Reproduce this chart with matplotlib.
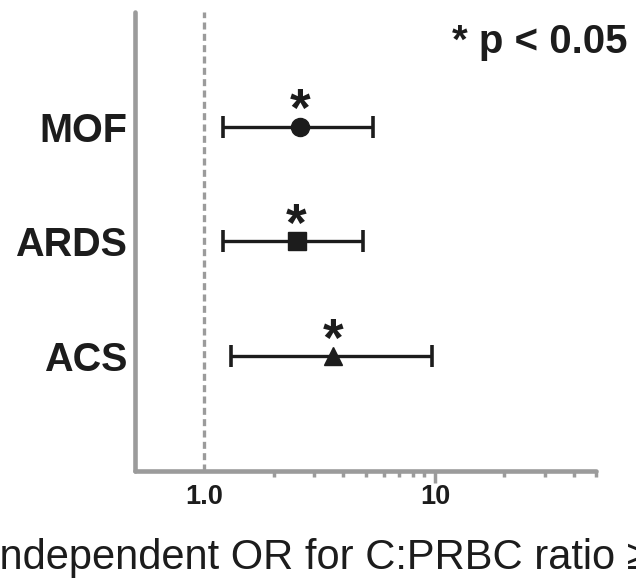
import numpy as np
import matplotlib
matplotlib.use("Agg")
import matplotlib.pyplot as plt

plt.rcParams['font.family'] = ['Liberation Sans', 'DejaVu Sans']

outcomes = ["MOF", "ARDS", "ACS"]
odds = [2.61, 2.51, 3.60]
ci_low = [1.20, 1.20, 1.31]
ci_high = [5.38, 4.86, 9.7]
markers = ["o", "s", "^"]
ypos = [3, 2, 1]

grey = "#9b9b9b"
ink = "#1c1c1c"

fig = plt.figure(figsize=(6.36, 5.85), dpi=100)
ax = fig.add_axes([0.2123, 0.1949, 0.7248, 0.7846])

for y, o, lo, hi, m in zip(ypos, odds, ci_low, ci_high, markers):
    ax.errorbar(o, y, xerr=[[o - lo], [hi - o]], fmt=m, color=ink,
                ms=13, elinewidth=2.4, capsize=8, capthick=2.6, zorder=3)
    # significance star
    ax.text(o, y + 0.005, "*", ha="center", va="baseline", fontsize=38,
            fontweight="bold", color=ink)

ax.axvline(1.0, color=grey, lw=2.4, ls=(0, (2.1, 1.3)), zorder=1)

ax.set_xscale("log")
ax.set_xlim(0.5, 50)
ax.set_ylim(0, 4)

ax.set_xticks([1, 10])
ax.set_xticklabels(["1.0", "10"], fontsize=19.5, fontweight="bold", color=ink)
ax.set_xticks([2, 3, 4, 5, 6, 7, 8, 9, 20, 30, 40, 50], minor=True)
ax.xaxis.set_minor_formatter(plt.NullFormatter())
ax.tick_params(axis="x", which="major", length=8.6, width=2.5, color=grey, pad=0.8)
ax.tick_params(axis="x", which="minor", length=4.3, width=2.5, color=grey)
ax.xaxis.get_major_ticks()[0].tick1line.set_visible(False)

ax.set_yticks(ypos)
ax.set_yticklabels(outcomes, fontsize=28.5, fontweight="bold", color=ink)
ax.tick_params(axis="y", length=0, pad=5.8)

for s in ["top", "right"]:
    ax.spines[s].set_visible(False)
for s in ["left", "bottom"]:
    ax.spines[s].set_color(grey)
    ax.spines[s].set_linewidth(3.3)
    ax.spines[s].set_capstyle("round")

fig.text(452 / 636, 1 - 53 / 585, "* p < 0.05", fontsize=29, fontweight="bold",
         ha="left", va="baseline", color=ink)

fig.text(-12 / 636, 16 / 585, "Independent OR for C:PRBC ratio \u2265 1:1",
         fontsize=30, ha="left", va="baseline", color=ink)

fig.savefig("out.png", dpi=100)
